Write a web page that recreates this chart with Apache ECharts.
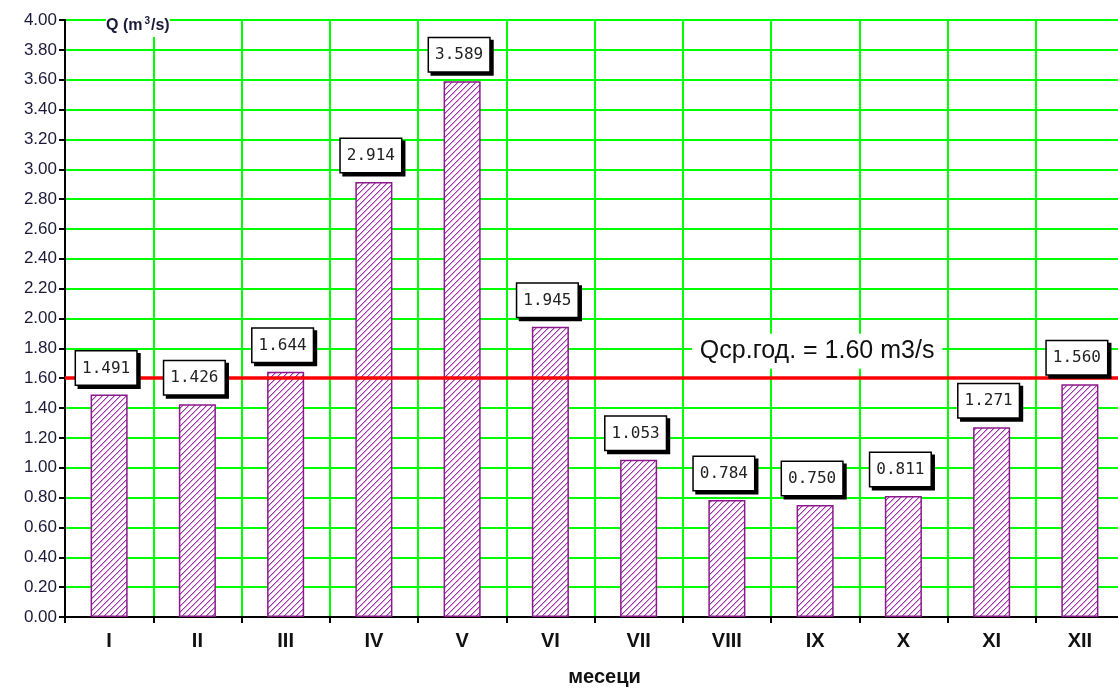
<!DOCTYPE html>
<html><head><meta charset="utf-8">
<script src="https://cdn.jsdelivr.net/npm/echarts@6/dist/echarts.min.js"></script>
<style>html,body{margin:0;padding:0;background:#fff}#c{width:1118px;height:688px}</style>
</head><body><div id="c"></div>
<script>
const months = ['I','II','III','IV','V','VI','VII','VIII','IX','X','XI','XII'];
const flows = [1.491,1.426,1.644,2.914,3.589,1.945,1.053,0.784,0.750,0.811,1.271,1.560];
const meanFlow = 1.60;
const meanLabel = 'Qср.год. = 1.60 m3/s';
const xName = 'месеци';

// hatch tile "///"
const S = 6;
const pc = document.createElement('canvas');
pc.width = S; pc.height = S;
const g = pc.getContext('2d');
g.fillStyle = '#fff'; g.fillRect(0,0,S,S);
for (let x = 0; x < S; x++) {
  g.fillStyle = '#a030b0';
  g.fillRect(x, S-1-x, 1, 1);
  g.fillStyle = '#d9a6e0';
  g.fillRect(x, (S-x) % S, 1, 1);
}

const FONT = 'Arial, Liberation Sans, sans-serif';
const chart = echarts.init(document.getElementById('c'));
chart.setOption({
  animation:false,
  grid:{left:65, top:20, width:1059, height:597, containLabel:false, outerBoundsMode:'none'},
  xAxis:{type:'category', data:months, name:xName, nameLocation:'middle', nameGap:50,
    nameTextStyle:{fontFamily:FONT, fontWeight:'bold', fontSize:20, color:'#111', padding:[0,0,0,20]},
    axisLine:{lineStyle:{color:'#000', width:2}},
    axisTick:{show:true, alignWithLabel:false, length:6, lineStyle:{color:'#000', width:2}},
    axisLabel:{fontFamily:FONT, fontWeight:'bold', fontSize:20, color:'#111', margin:14},
    splitLine:{show:true, lineStyle:{color:'#00ff00', width:2}}},
  yAxis:{type:'value', min:0, max:4, interval:0.2,
    name:'{p|}{b|Q (m}{s|3}{b|/s)}', nameLocation:'end', nameGap:-6,
    nameTextStyle:{align:'left', verticalAlign:'middle',
      rich:{p:{width:41},
            b:{fontFamily:FONT, fontWeight:'bold', fontSize:16, color:'#1a1a3a', backgroundColor:'#fff', padding:[3,0,3,0]},
            s:{fontFamily:FONT, fontWeight:'bold', fontSize:10, color:'#1a1a3a', backgroundColor:'#fff', padding:[0,1,10,2]}}},
    axisLine:{show:true, lineStyle:{color:'#000', width:2}},
    axisTick:{show:true, length:6, lineStyle:{color:'#000', width:2}},
    axisLabel:{formatter:v=>v.toFixed(2), fontFamily:FONT, fontSize:17, color:'#1a1a3a', margin:8},
    splitLine:{show:true, lineStyle:{color:'#00ff00', width:2}}},
  series:[{type:'bar', data:flows, barWidth:'42%', z:2,
    itemStyle:{color:{image:pc, repeat:'repeat'}, borderColor:'#8a1a8a', borderWidth:1.5}
  },{type:'line', data:[], z:3, silent:true,
    markLine:{symbol:'none', silent:true, lineStyle:{color:'#ff0000', width:3.5, type:'solid'},
      label:{show:false}, data:[{yAxis:meanFlow}]},
    markPoint:{symbol:'circle', symbolSize:1, silent:true, itemStyle:{color:'rgba(0,0,0,0)'},
      label:{show:true, position:'inside', formatter:meanLabel, offset:[2,-27], fontFamily:FONT, fontSize:25, color:'#111',
        backgroundColor:'#fff', padding:[6,8,4,8]},
      data:[{coord:['IX', meanFlow]}]}
  },{type:'bar', data:flows, barWidth:'42%', barGap:'-100%', z:5, silent:true,
    itemStyle:{color:'rgba(0,0,0,0)', borderWidth:0},
    label:{show:true, position:'top', distance:10, formatter:p=>p.value.toFixed(3),
      fontFamily:'DejaVu Sans Mono, Liberation Mono, monospace', fontSize:16, color:'#222',
      backgroundColor:'#fff', borderColor:'#000', borderWidth:1.5, padding:[9,6,8,6],
      shadowColor:'#000', shadowOffsetX:3, shadowOffsetY:3, shadowBlur:0, offset:[-3,0]}
  }]
});
</script></body></html>
